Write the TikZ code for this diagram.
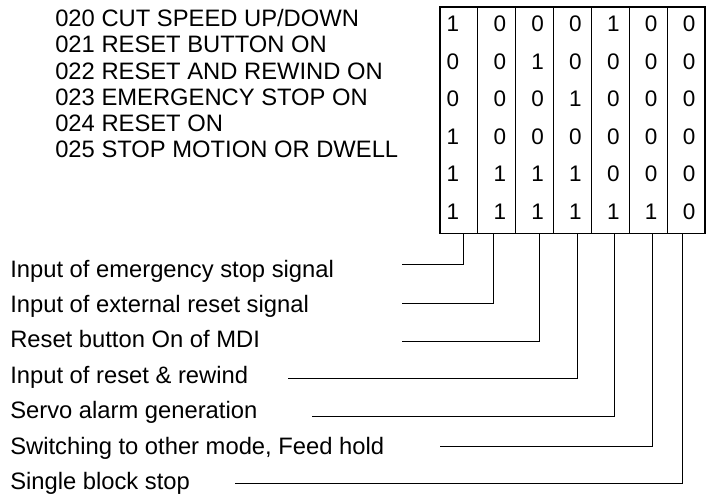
\documentclass[tikz,border=0pt]{standalone}
\usepackage{fontspec}
\setmainfont{Liberation Sans}
\usetikzlibrary{positioning,calc}
\definecolor{Ink}{HTML}{000000}
\tikzset{
  codeline/.style={anchor=base west,inner sep=0pt,text=Ink,font=\fontsize{16.9}{18}\selectfont},
  sigline/.style={anchor=base west,inner sep=0pt,text=Ink,font=\fontsize{16.9}{18}\selectfont},
  bitbox/.style={draw=Ink,line width=1pt,minimum width=6.625cm,minimum height=5.6625cm,inner sep=0pt},
  bit/.style={anchor=base,inner sep=0pt,text=Ink,font=\fontsize{16}{18}\selectfont},
  divider/.style={draw=Ink,line width=1pt},
  leader/.style={draw=Ink,line width=.55pt}
}

\begin{document}
\begin{tikzpicture}[x=0.025cm,y=-0.025cm]
  \useasboundingbox (0,0) rectangle (711,495);
  % parameter codes
  \foreach \t [count=\k] in {020 CUT SPEED UP/DOWN,021 RESET BUTTON ON,022 RESET AND REWIND ON,023 EMERGENCY STOP ON,024 RESET ON,025 STOP MOTION OR DWELL}
    \node[codeline] (code\k) at (55,{26.7+(\k-1)*26.2}) {\t};
  % bit table
  \node[bitbox] (tbl) at (572.5,120.25) {};
  \foreach \i in {1,...,6}
    \draw[divider] ($(tbl.north west)!\i/7!(tbl.north east)$) -- ($(tbl.south west)!\i/7!(tbl.south east)$);
  \foreach \r [count=\j] in {{1,0,0,0,1,0,0},{0,0,1,0,0,0,0},{0,0,0,1,0,0,0},{1,0,0,0,0,0,0},{1,1,1,1,0,0,0},{1,1,1,1,1,1,0}}
    \foreach \b [count=\i] in \r {
      \pgfmathsetmacro\bx{440+(\i-0.5)*37.857+(\i==1?-6:3)}
      \node[bit] (b\j\i) at (\bx,{31.5+(\j-1)*37.5}) {\b};
    }
  % signal labels
  \foreach \t [count=\k] in {Input of emergency stop signal,Input of external reset signal,Reset button On of MDI,Input of reset \& rewind,Servo alarm generation,{Switching to other mode, Feed hold},Single block stop}
    \node[sigline] (sig\k) at (10,{277+(\k-1)*35.4}) {\t};
  % leaders
  \foreach \sx/\ly/\vx [count=\k] in {402/264/463,402/303/493,402/341/539,288/378/577,312/416/614,440/446/652,235/483/682} {
    \coordinate (s\k) at (\sx,\ly);
    \coordinate (t\k) at (\vx,233.5);
    \draw[leader] (s\k) -| (t\k);
  }
\end{tikzpicture}
\end{document}
